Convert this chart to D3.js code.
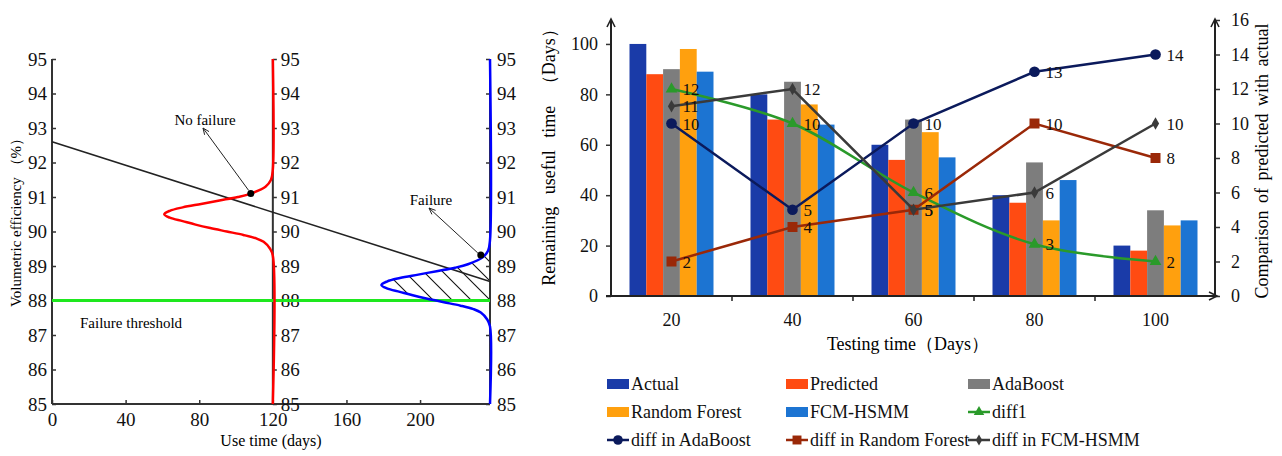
<!DOCTYPE html>
<html><head><meta charset="utf-8">
<script src="https://cdn.jsdelivr.net/npm/d3@7"></script>
<style>
body{margin:0;background:#fff;}
svg{display:block;font-family:"Liberation Serif","Times New Roman",serif;}
</style>
</head><body><svg id="c" width="1282" height="456"></svg>
<script>
// ---------------- Left panel data ----------------
const effTicks = [85, 86, 87, 88, 89, 90, 91, 92, 93, 94, 95];
const useTimeTicks = [0, 40, 80, 120, 160, 200];
const useTimeDomain = [0, 238];
const effDomain = [85, 95];
const degradation = [[0, 92.6], [238, 88.55]];            // [days, efficiency]
const thresholdValue = 88;
const noFailureDay = 120;
const failureDay = 238;
// density curves: [efficiency, days bulging left of axis]
const noFailureCurve = [[95,0],[91.8,0],[91.5,1],[91.3,4],[91.1,12],[91.0,19],[90.9,29],[90.8,39],[90.7,49],[90.6,56],[90.5,59],[90.4,56],[90.3,49],[90.2,42],[90.1,34],[90.0,25],[89.9,16],[89.8,9],[89.7,5],[89.5,1.5],[89.3,0],[85,0]];
const failureCurve = [[95,0],[89.75,0],[89.45,1],[89.25,4],[89.05,12],[88.95,19],[88.85,29],[88.75,39],[88.65,49],[88.55,56],[88.45,59],[88.35,56],[88.25,49],[88.15,42],[88.05,34],[87.95,25],[87.85,16],[87.75,9],[87.65,5],[87.45,1.5],[87.25,0],[85,0]];
const noFailurePoint = [108, 91.1];
const failurePoint = [233, 89.32];
const noFailureText = "No failure", failureText = "Failure", thresholdText = "Failure threshold";

// ---------------- Right panel data ----------------
const categories = ["20", "40", "60", "80", "100"];
const barSeries = ["Actual", "Predicted", "AdaBoost", "Random Forest", "FCM-HSMM"];
const actual       = [100, 80, 60, 40, 20];
const predicted    = [88, 70, 54, 37, 18];
const adaBoost     = [90, 85, 70, 53, 34];
const randomForest = [98, 76, 65, 30, 28];
const fcmHsmm      = [89, 68, 55, 46, 30];
const diff1            = [12, 10, 6, 3, 2];
const diffAdaBoost     = [10, 5, 10, 13, 14];
const diffRandomForest = [2, 4, 5, 10, 8];
const diffFcmHsmm      = [11, 12, 5, 6, 10];
const leftTicks = [0, 20, 40, 60, 80, 100];
const rightTicks = [0, 2, 4, 6, 8, 10, 12, 14, 16];

const barColors = ["#1a3ba8", "#ff4b12", "#7d7d7d", "#ffa00e", "#1c74d2"];
const barValues = [actual, predicted, adaBoost, randomForest, fcmHsmm];

const lineSeries = [
  {name: "diff1", values: diff1, color: "#2a9a2a", symbol: d3.symbolTriangle, size: 60, curve: d3.curveCatmullRom},
  {name: "diff in AdaBoost", values: diffAdaBoost, color: "#0b1a5c", symbol: d3.symbolCircle, size: 90, curve: d3.curveLinear},
  {name: "diff in Random Forest", values: diffRandomForest, color: "#9a2808", symbol: d3.symbolSquare, size: 100, curve: d3.curveLinear},
  {name: "diff in FCM-HSMM", values: diffFcmHsmm, color: "#3a3a3a", symbol: d3.symbolDiamond, size: 45, curve: d3.curveLinear}
];

const svg = d3.select("#c");
const axisColor = "#333";

function styleAxis(g, size) {
  g.attr("font-family", null).attr("font-size", null);
  g.selectAll("text").attr("font-size", size).attr("fill", "#111");
  g.selectAll("line").attr("stroke", axisColor).attr("stroke-width", 1.5);
  g.select(".domain").remove();
}

// =============== LEFT PANEL ===============
const lx = d3.scaleLinear().domain(useTimeDomain).range([52, 490]);
const ly = d3.scaleLinear().domain(effDomain).range([404, 59]);
const L = svg.append("g");

// hatch pattern
const defs = svg.append("defs");
const pat = defs.append("pattern").attr("id", "hatch").attr("patternUnits", "userSpaceOnUse")
  .attr("width", 19).attr("height", 19);
pat.append("path").attr("d", "M-5,-5 L24,24 M-5,14 L5,24 M14,-5 L24,5")
  .attr("stroke", "#111").attr("stroke-width", 1.1).attr("fill", "none");

const bumpLine = d3.line().x(d => lx(failureDay - d[1])).y(d => ly(d[0])).curve(d3.curveCatmullRom);
defs.append("clipPath").attr("id", "thrClip").append("rect")
  .attr("x", 0).attr("y", 0).attr("width", 1282).attr("height", ly(thresholdValue));
L.append("path")
  .attr("d", bumpLine(failureCurve) + "Z")
  .attr("fill", "url(#hatch)").attr("clip-path", "url(#thrClip)");

// axes lines
L.append("line").attr("x1", lx(0)).attr("x2", lx(0)).attr("y1", ly(95)).attr("y2", ly(85)).attr("stroke", axisColor).attr("stroke-width", 2);
L.append("line").attr("x1", lx(0)).attr("x2", lx(failureDay)).attr("y1", ly(85)).attr("y2", ly(85)).attr("stroke", axisColor).attr("stroke-width", 2);
L.append("line").attr("x1", lx(noFailureDay)).attr("x2", lx(noFailureDay)).attr("y1", ly(95)).attr("y2", ly(85)).attr("stroke", axisColor).attr("stroke-width", 2);
L.append("line").attr("x1", lx(failureDay)).attr("x2", lx(failureDay)).attr("y1", ly(95)).attr("y2", ly(85)).attr("stroke", axisColor).attr("stroke-width", 2);

L.append("g").attr("transform", `translate(${lx(0)},0)`)
  .call(d3.axisLeft(ly).tickValues(effTicks).tickFormat(d3.format("d")).tickSizeInner(-4).tickSizeOuter(0).tickPadding(5))
  .call(g => styleAxis(g, 19));
L.append("g").attr("transform", `translate(${lx(noFailureDay)},0)`)
  .call(d3.axisRight(ly).tickValues(effTicks).tickFormat(d3.format("d")).tickSizeInner(4).tickSizeOuter(0).tickPadding(4))
  .call(g => styleAxis(g, 19));
L.append("g").attr("transform", `translate(${lx(failureDay)},0)`)
  .call(d3.axisRight(ly).tickValues(effTicks).tickFormat(d3.format("d")).tickSizeInner(-4).tickSizeOuter(0).tickPadding(7))
  .call(g => styleAxis(g, 19));
L.append("g").attr("transform", `translate(0,${ly(85)})`)
  .call(d3.axisBottom(lx).tickValues(useTimeTicks).tickFormat(d3.format("d")).tickSizeInner(-4).tickSizeOuter(0).tickPadding(9))
  .call(g => styleAxis(g, 19));

// threshold
L.append("line").attr("x1", lx(0)).attr("x2", lx(failureDay)).attr("y1", ly(thresholdValue)).attr("y2", ly(thresholdValue))
  .attr("stroke", "#1ee81e").attr("stroke-width", 3);
// degradation line
L.append("path").attr("d", d3.line().x(d => lx(d[0])).y(d => ly(d[1]))(degradation))
  .attr("stroke", "#222").attr("stroke-width", 1.6).attr("fill", "none");
// density curves
L.append("path").attr("d", d3.line().x(d => lx(noFailureDay - d[1])).y(d => ly(d[0])).curve(d3.curveCatmullRom)(noFailureCurve))
  .attr("stroke", "#ff0000").attr("stroke-width", 2.5).attr("fill", "none");
L.append("path").attr("d", bumpLine(failureCurve))
  .attr("stroke", "#0000ff").attr("stroke-width", 2.5).attr("fill", "none");

// annotation points & arrows
function arrow(x1, y1, x2, y2) {
  L.append("line").attr("x1", x1).attr("y1", y1).attr("x2", x2).attr("y2", y2).attr("stroke", "#222").attr("stroke-width", 1);
  const a = Math.atan2(y2 - y1, x2 - x1), h = 7, s = 0.4;
  const p = [[x2 - h * Math.cos(a - s), y2 - h * Math.sin(a - s)], [x2, y2], [x2 - h * Math.cos(a + s), y2 - h * Math.sin(a + s)]];
  L.append("path").attr("d", d3.line()(p)).attr("stroke", "#222").attr("stroke-width", 1).attr("fill", "none");
}
L.append("circle").attr("cx", lx(noFailurePoint[0])).attr("cy", ly(noFailurePoint[1])).attr("r", 3.5).attr("fill", "#000");
L.append("circle").attr("cx", lx(failurePoint[0])).attr("cy", ly(failurePoint[1])).attr("r", 3.5).attr("fill", "#000");
arrow(lx(noFailurePoint[0]) - 2, ly(noFailurePoint[1]) - 3, 203, 128);
arrow(lx(failurePoint[0]) - 3, ly(failurePoint[1]) - 2, 429, 208);
L.append("text").attr("x", 205).attr("y", 125).attr("text-anchor", "middle").attr("font-size", 15).text(noFailureText);
L.append("text").attr("x", 431).attr("y", 205).attr("text-anchor", "middle").attr("font-size", 15).text(failureText);
L.append("text").attr("x", 80).attr("y", 328).attr("font-size", 15).text(thresholdText);

L.append("text").attr("transform", "translate(21,219) rotate(-90)").attr("text-anchor", "middle").attr("font-size", 15)
  .text("Volumetric efficiency （%）");
L.append("text").attr("x", 271).attr("y", 446).attr("text-anchor", "middle").attr("font-size", 16).text("Use time (days)");

// =============== RIGHT PANEL ===============
const R = svg.append("g");
const x0 = d3.scaleBand().domain(categories).range([611, 1216]);
const x1 = d3.scaleBand().domain(barSeries).range([18.5, 18.5 + 84]);
const yL = d3.scaleLinear().domain([0, 109.5]).range([296, 20]);
const yR = d3.scaleLinear().domain([0, 16]).range([296, 20]);

// bars
barSeries.forEach((s, si) => {
  R.append("g").selectAll("rect").data(categories).join("rect")
    .attr("x", c => x0(c) + x1(s)).attr("width", x1.bandwidth())
    .attr("y", (c, i) => yL(barValues[si][i])).attr("height", (c, i) => yL(0) - yL(barValues[si][i]))
    .attr("fill", barColors[si]);
});

// axes
R.append("g").attr("transform", `translate(611,0)`)
  .call(d3.axisLeft(yL).tickValues(leftTicks).tickSizeInner(5).tickSizeOuter(0).tickPadding(8))
  .call(g => styleAxis(g, 18));
R.append("g").attr("transform", `translate(1215,0)`)
  .call(d3.axisRight(yR).tickValues(rightTicks).tickSizeInner(5).tickSizeOuter(0).tickPadding(11))
  .call(g => styleAxis(g, 18));
function arrowHead(g, x, y, dir) {
  const h = 8, w = 4;
  let p;
  if (dir === "up") p = [[x - w, y + h], [x, y], [x + w, y + h]];
  else p = [[x - h, y - w], [x, y], [x - h, y + w]];
  g.append("path").attr("d", d3.line()(p)).attr("stroke", "#222").attr("stroke-width", 1.6).attr("fill", "none");
}
R.append("line").attr("x1", 611).attr("x2", 611).attr("y1", yL(0)).attr("y2", 19).attr("stroke", "#222").attr("stroke-width", 2);
R.append("line").attr("x1", 1215).attr("x2", 1215).attr("y1", yR(0)).attr("y2", 19).attr("stroke", "#222").attr("stroke-width", 2);
R.append("line").attr("x1", 606).attr("x2", 1217).attr("y1", yL(0)).attr("y2", yL(0)).attr("stroke", "#222").attr("stroke-width", 2);
arrowHead(R, 611, 19, "up");
arrowHead(R, 1215, 19, "up");
arrowHead(R, 1217, yL(0), "right");
// x ticks at band boundaries, labels at centers
R.append("g").selectAll("line").data(categories.slice(1)).join("line")
  .attr("x1", c => x0(c)).attr("x2", c => x0(c)).attr("y1", yL(0)).attr("y2", yL(0) + 5)
  .attr("stroke", "#222").attr("stroke-width", 1.5);
R.append("g").selectAll("text").data(categories).join("text")
  .attr("x", c => x0(c) + x0.bandwidth() / 2).attr("y", 326).attr("text-anchor", "middle").attr("font-size", 18).attr("fill", "#111")
  .text(c => c);

// lines
lineSeries.forEach(s => {
  const pts = categories.map((c, i) => [x0(c) + x0.bandwidth() / 2, yR(s.values[i])]);
  R.append("path").attr("d", d3.line().curve(s.curve)(pts)).attr("stroke", s.color).attr("stroke-width", 2.5).attr("fill", "none");
  R.append("g").selectAll("path").data(pts).join("path")
    .attr("transform", d => `translate(${d[0]},${d[1]})`)
    .attr("d", d3.symbol(s.symbol, s.size)).attr("fill", s.color);
  R.append("g").selectAll("text").data(pts).join("text")
    .attr("x", d => d[0] + 11).attr("y", d => d[1]).attr("dy", "0.36em").attr("font-size", 17).attr("fill", "#111")
    .text((d, i) => s.values[i]);
});

// titles
R.append("text").attr("transform", "translate(555,153) rotate(-90)").attr("text-anchor", "middle").attr("font-size", 18)
  .attr("word-spacing", 8).text("Remaining useful time （Days）");
R.append("text").attr("transform", "translate(1268,161) rotate(-90)").attr("text-anchor", "middle").attr("font-size", 18)
  .attr("word-spacing", 3).text("Comparison of predicted with actual");
R.append("text").attr("x", 908).attr("y", 350).attr("text-anchor", "middle").attr("font-size", 18).text("Testing time（Days）");

// legend
const legendItems = [
  {name: "Actual", type: "bar", color: barColors[0]},
  {name: "Predicted", type: "bar", color: barColors[1]},
  {name: "AdaBoost", type: "bar", color: barColors[2]},
  {name: "Random Forest", type: "bar", color: barColors[3]},
  {name: "FCM-HSMM", type: "bar", color: barColors[4]},
  {name: lineSeries[0].name, type: "line", s: lineSeries[0]},
  {name: lineSeries[1].name, type: "line", s: lineSeries[1]},
  {name: lineSeries[2].name, type: "line", s: lineSeries[2]},
  {name: lineSeries[3].name, type: "line", s: lineSeries[3]}
];
const colX = [607, 786, 968], rowY = [384, 412, 440];
legendItems.forEach((it, i) => {
  const x = colX[i % 3], y = rowY[Math.floor(i / 3)];
  const g = R.append("g").attr("transform", `translate(${x},${y})`);
  if (it.type === "bar") {
    g.append("rect").attr("x", 0).attr("y", -5).attr("width", 22).attr("height", 10).attr("fill", it.color);
  } else {
    g.append("line").attr("x1", 0).attr("x2", 22).attr("stroke", it.s.color).attr("stroke-width", 2.5);
    g.append("path").attr("transform", "translate(11,0)").attr("d", d3.symbol(it.s.symbol, it.s.size * 0.8)).attr("fill", it.s.color);
  }
  g.append("text").attr("x", 24).attr("dy", "0.35em").attr("font-size", 18).attr("fill", "#111").text(it.name);
});
</script>
</body></html>
